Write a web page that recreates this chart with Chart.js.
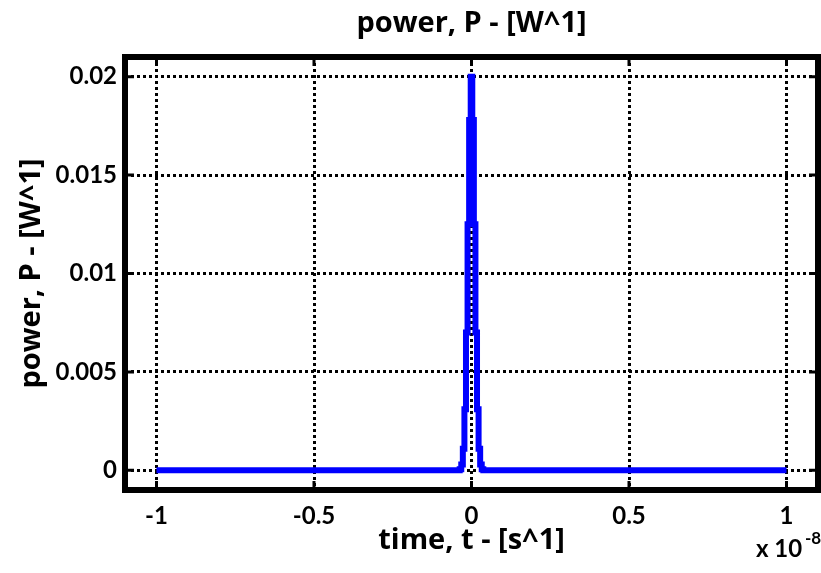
<!DOCTYPE html>
<html>
<head>
<meta charset="utf-8">
<script src="https://cdn.jsdelivr.net/npm/chart.js@4"></script>
<style>
  body { margin: 0; background: #fff; }
  #wrap { width: 821px; height: 573px; position: relative; }
</style>
</head>
<body>
<div id="wrap"><canvas id="grafico"></canvas></div>
<script>
// datos (tiempo en unidades de 1e-8 s)
const tiempo = [-1, -0.04, -0.035, -0.03, -0.025, -0.02, -0.015, -0.01, -0.005, 0,
                0.005, 0.01, 0.015, 0.02, 0.025, 0.03, 0.035, 0.04, 1];
const potencia = [0, 0, 0.00006, 0.0003, 0.0011, 0.0031, 0.0070, 0.0125, 0.0178, 0.02,
                  0.0178, 0.0125, 0.0070, 0.0031, 0.0011, 0.0003, 0.00006, 0, 0];

const xTicks = [-1, -0.5, 0, 0.5, 1];
const xTickLabels = ['-1', '-0.5', '0', '0.5', '1'];
const yTicks = [0, 0.005, 0.01, 0.015, 0.02];
const yTickLabels = ['0', '0.005', '0.01', '0.015', '0.02'];

const titulo = 'power, P - [W^1]';
const tituloX = 'time, t - [s^1]';
const tituloY = 'power, P - [W^1]';

Chart.defaults.font.family = 'Lato';
Chart.defaults.font.weight = 'bold';
Chart.defaults.color = '#000';

const fuenteTitulos = { family: 'Open Sans', size: 29, weight: 'bold' };

// caja negra gruesa, marcas hacia adentro y el "x 10^-8"
const cajaMatlab = {
  id: 'cajaMatlab',
  afterDraw(chart) {
    const ctx = chart.ctx;
    const a = chart.chartArea;
    const sx = chart.scales.x, sy = chart.scales.y;
    ctx.save();
    ctx.strokeStyle = '#000';
    ctx.lineWidth = 3;
    xTicks.forEach(v => {
      const px = sx.getPixelForValue(v);
      ctx.beginPath();
      ctx.moveTo(px, a.bottom); ctx.lineTo(px, a.bottom - 9);
      ctx.moveTo(px, a.top); ctx.lineTo(px, a.top + 9);
      ctx.stroke();
    });
    yTicks.forEach(v => {
      const py = sy.getPixelForValue(v);
      ctx.beginPath();
      ctx.moveTo(a.left, py); ctx.lineTo(a.left + 9, py);
      ctx.moveTo(a.right, py); ctx.lineTo(a.right - 9, py);
      ctx.stroke();
    });
    ctx.lineWidth = 6;
    ctx.strokeRect(a.left, a.top, a.right - a.left, a.bottom - a.top);

    ctx.fillStyle = '#000';
    ctx.textBaseline = 'middle';
    ctx.textAlign = 'left';
    ctx.font = 'bold 24px Lato';
    ctx.fillText('x 10', 756, 549);
    ctx.font = 'bold 17px Lato';
    ctx.fillText('-8', 805, 539);
    ctx.restore();
  }
};

new Chart(document.getElementById('grafico'), {
  type: 'line',
  data: {
    datasets: [{
      data: tiempo.map((t, i) => ({ x: t, y: potencia[i] })),
      borderColor: '#0000ff',
      borderWidth: 6,
      pointRadius: 0,
      fill: false,
      stepped: 'middle'
    }]
  },
  options: {
    responsive: true,
    maintainAspectRatio: false,
    animation: false,
    layout: { padding: { left: 0, right: 3, top: 0, bottom: 0 } },
    plugins: {
      legend: { display: false },
      tooltip: { enabled: false },
      title: {
        display: true,
        fullSize: false,
        text: titulo,
        font: fuenteTitulos,
        padding: { top: 6, bottom: 16.2 }
      }
    },
    scales: {
      x: {
        type: 'linear',
        min: -1.1,
        max: 1.1,
        afterBuildTicks: s => { s.ticks = xTicks.map(v => ({ value: v })); },
        afterFit: s => { s.height = 83; },
        ticks: {
          font: { size: 24, weight: 'bold' },
          padding: 12,
          maxRotation: 0,
          callback: (v, i) => xTickLabels[i]
        },
        grid: { color: '#000', lineWidth: 3, drawTicks: false },
        border: { display: false, dash: [3, 3] },
        title: {
          display: true,
          text: tituloX,
          font: fuenteTitulos,
          padding: { top: 0, bottom: 15 }
        }
      },
      y: {
        min: -0.001,
        max: 0.021,
        afterBuildTicks: s => { s.ticks = yTicks.map(v => ({ value: v })); },
        afterFit: s => { s.width = 125; },
        ticks: {
          font: { size: 24, weight: 'bold' },
          padding: 8,
          callback: (v, i) => yTickLabels[i]
        },
        grid: { color: '#000', lineWidth: 3, drawTicks: false },
        border: { display: false, dash: [3, 3] },
        title: {
          display: true,
          text: tituloY,
          font: fuenteTitulos,
          padding: { top: 14, bottom: 0 }
        }
      }
    }
  },
  plugins: [cajaMatlab]
});
</script>
</body>
</html>
